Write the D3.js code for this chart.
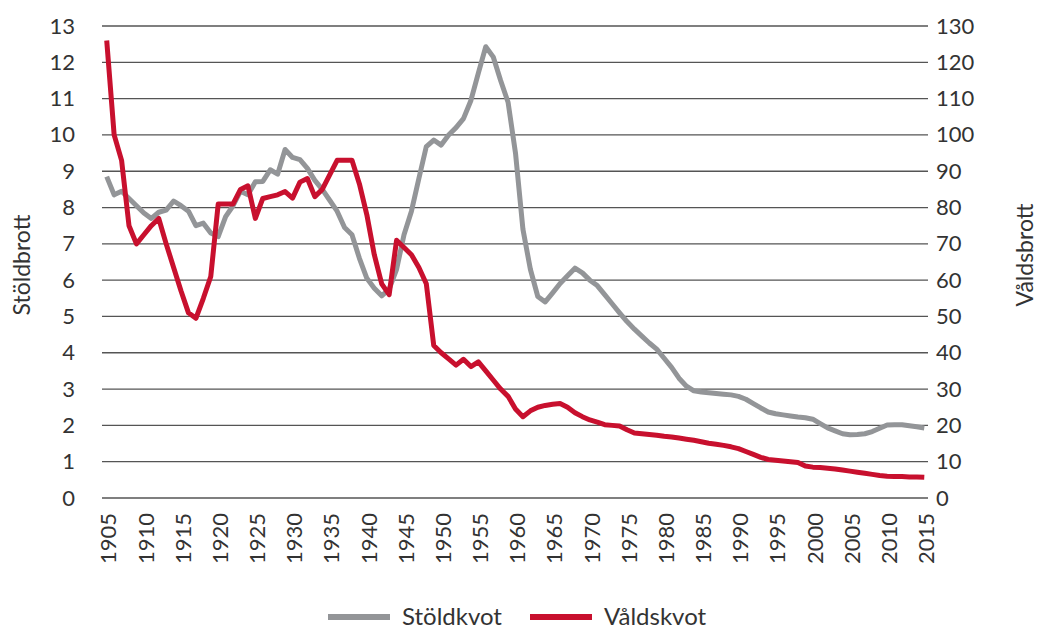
<!DOCTYPE html>
<meta charset="utf-8">
<style>
body { margin: 0; background: #fff; }
text { font-family: Lato, "Open Sans", sans-serif; fill: #333; }
.grid line { stroke: #555; stroke-width: 1.3px; }
.axis path { display: none; }
.axis line { display: none; }
</style>
<body>
<script src="https://d3js.org/d3.v7.min.js"></script>
<script>

var width = 1043,
    height = 630;

// years 1905..2015
var years = d3.range(1905, 2016);

// Stöldkvot, left axis (0-13)
var stold = [
 8.85, 8.35, 8.45, 8.25, 8.05, 7.85, 7.7, 7.87, 7.93, 8.18,
 8.05, 7.9, 7.5, 7.57, 7.3, 7.2, 7.75, 8.05, 8.45, 8.35,
 8.71, 8.72, 9.04, 8.92, 9.6, 9.38, 9.32, 9.08, 8.75, 8.5,
 8.2, 7.9, 7.45, 7.25, 6.6, 6.05, 5.78, 5.57, 5.75, 6.3,
 7.25, 7.9, 8.8, 9.68, 9.86, 9.72, 10.0, 10.2, 10.45, 10.95,
 11.7, 12.43, 12.15, 11.5, 10.9, 9.5, 7.4, 6.3, 5.55, 5.4,
 5.65, 5.91, 6.12, 6.33, 6.2, 6.0, 5.85, 5.6, 5.35, 5.1,
 4.86, 4.65, 4.46, 4.27, 4.1, 3.85, 3.6, 3.3, 3.08, 2.95,
 2.92, 2.9, 2.88, 2.86, 2.84, 2.8, 2.72, 2.6, 2.48, 2.37,
 2.32, 2.29, 2.26, 2.23, 2.21, 2.17, 2.05, 1.93, 1.85, 1.77,
 1.74, 1.75, 1.77, 1.83, 1.92, 2.01, 2.02, 2.02, 1.99, 1.96,
 1.93
];

// Våldskvot, right axis (0-130)
var vald = [
 126, 100, 93, 75, 70, 72.5, 75, 77, 70, 63.5,
 57, 51, 49.5, 55, 61, 81, 81, 81, 85, 86,
 77, 82.5, 83, 83.5, 84.4, 82.6, 87, 88, 83, 85,
 89, 93, 93, 93, 86.5, 78, 67, 59, 56, 71,
 69, 67, 63.5, 59, 42, 40, 38.3, 36.6, 38.2, 36.2,
 37.5, 35, 32.5, 30, 28, 24.5, 22.4, 24, 25, 25.5,
 25.8, 26, 25, 23.5, 22.4, 21.5, 20.9, 20.2, 20, 19.8,
 18.8, 17.9, 17.7, 17.5, 17.3, 17, 16.8, 16.5, 16.2, 15.9,
 15.5, 15.1, 14.8, 14.5, 14.1, 13.6, 12.8, 12, 11.2, 10.6,
 10.4, 10.2, 10, 9.8, 8.8, 8.5, 8.4, 8.2, 8, 7.7,
 7.4, 7.1, 6.8, 6.5, 6.2, 6, 5.9, 5.9, 5.8, 5.8,
 5.7
];

var leftTicks = d3.range(0, 14);
var rightTicks = d3.range(0, 140, 10);
var yearTicks = d3.range(1905, 2016, 5);

var x = d3.scaleLinear().domain([1904.5, 2015.5]).range([103, 928]);
var yL = d3.scaleLinear().domain([0, 13]).range([498, 26]);
var yR = d3.scaleLinear().domain([0, 130]).range([498, 26]);

var svg = d3.select("body").append("svg")
    .attr("width", width)
    .attr("height", height);

// gridlines
svg.append("g").attr("class", "grid")
  .selectAll("line")
  .data(leftTicks)
  .enter().append("line")
  .attr("x1", 102)
  .attr("x2", 928)
  .attr("y1", function(d){ return yL(d); })
  .attr("y2", function(d){ return yL(d); });

// left axis
var gl = svg.append("g").attr("class", "axis")
  .attr("transform", "translate(102,0)")
  .call(d3.axisLeft(yL).tickValues(leftTicks).tickSize(0).tickPadding(27).tickFormat(d3.format("d")));
gl.selectAll("text").style("font-size", "22px");

// right axis
var gr = svg.append("g").attr("class", "axis")
  .attr("transform", "translate(928,0)")
  .call(d3.axisRight(yR).tickValues(rightTicks).tickSize(0).tickPadding(8).tickFormat(d3.format("d")));
gr.selectAll("text").style("font-size", "22px");

// x labels
var gx = svg.append("g").attr("class", "axis")
  .attr("transform", "translate(0,498)")
  .call(d3.axisBottom(x).tickValues(yearTicks).tickSize(0).tickFormat(d3.format("d")));
gx.selectAll("text")
  .style("font-size", "22px")
  .style("text-anchor", "end")
  .attr("x", -15)
  .attr("y", 0)
  .attr("dy", "0.42em")
  .attr("transform", "rotate(-90)");

// axis titles
svg.append("text")
  .attr("transform", "translate(30,265) rotate(-90)")
  .style("text-anchor", "middle")
  .style("font-size", "23px")
  .text("Stöldbrott");

svg.append("text")
  .attr("transform", "translate(1033,255) rotate(-90)")
  .style("text-anchor", "middle")
  .style("font-size", "23px")
  .text("Våldsbrott");

// lines
var lineL = d3.line()
  .x(function(d, i){ return x(years[i]); })
  .y(function(d){ return yL(d); });
var lineR = d3.line()
  .x(function(d, i){ return x(years[i]); })
  .y(function(d){ return yR(d); });

svg.append("path")
  .datum(stold)
  .attr("d", lineL)
  .attr("fill", "none")
  .attr("stroke", "#939598")
  .attr("stroke-width", 5)
  .attr("stroke-linejoin", "round");

svg.append("path")
  .datum(vald)
  .attr("d", lineR)
  .attr("fill", "none")
  .attr("stroke", "#c8102e")
  .attr("stroke-width", 5)
  .attr("stroke-linejoin", "round");

// legend
var legend = [{name: "Stöldkvot", color: "#939598", x: 328}, {name: "Våldskvot", color: "#c8102e", x: 530}];
var lg = svg.selectAll(".legend")
  .data(legend)
  .enter().append("g")
  .attr("class", "legend")
  .attr("transform", function(d){ return "translate(" + d.x + ",617)"; });
lg.append("line")
  .attr("x1", 0).attr("x2", 62)
  .attr("stroke", function(d){ return d.color; })
  .attr("stroke-width", 6);
lg.append("text")
  .attr("x", 74)
  .attr("dy", "0.35em")
  .style("font-size", "24px")
  .text(function(d){ return d.name; });

</script>
